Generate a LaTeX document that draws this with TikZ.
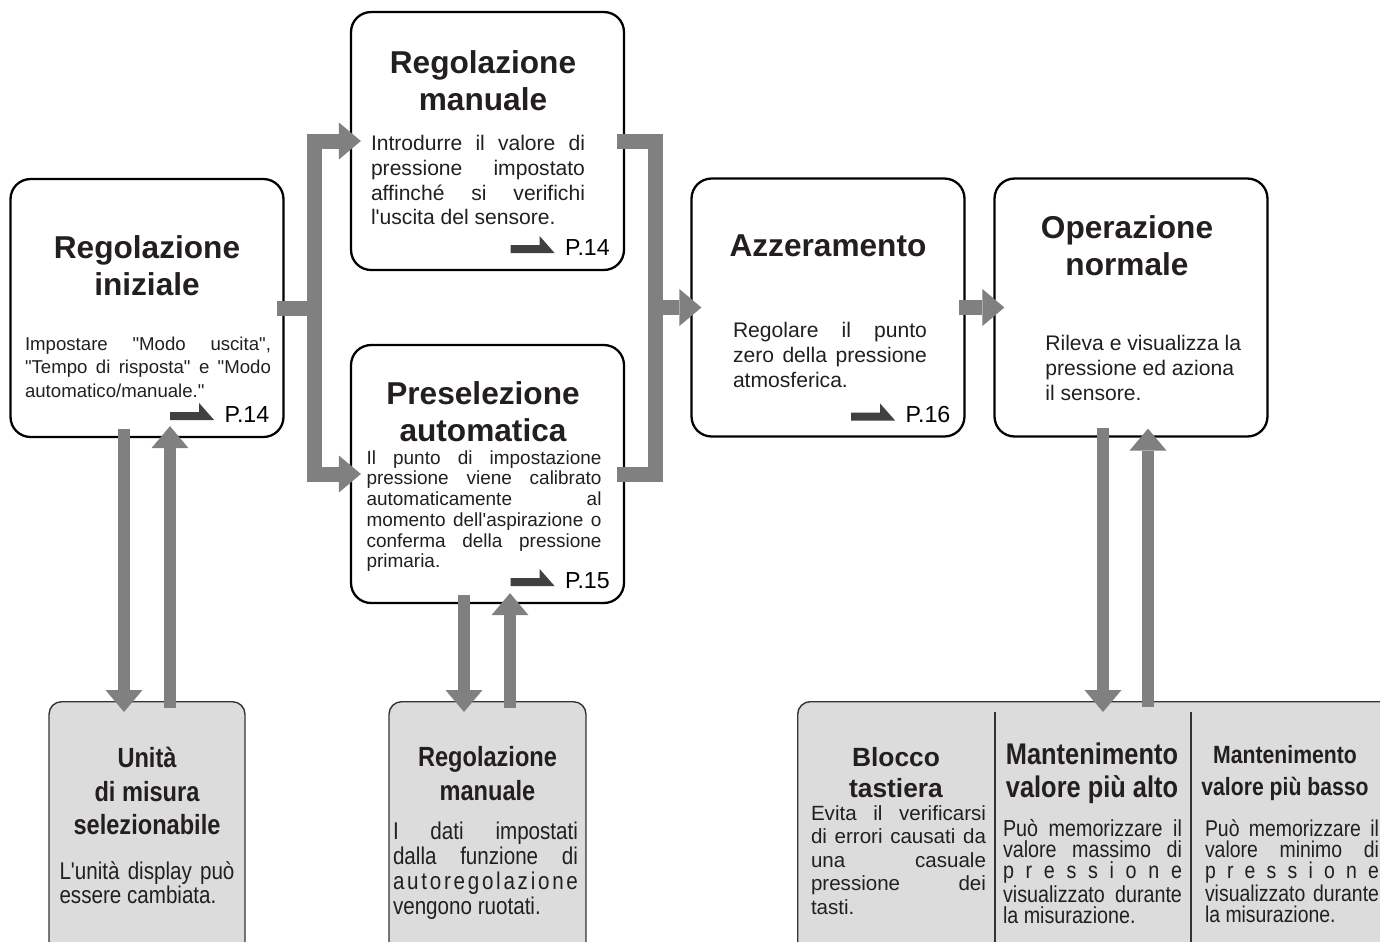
\documentclass[tikz,border=0pt]{standalone}
\usepackage{fontspec}
\setmainfont{Liberation Sans}[Ligatures=TeXOff]
\newfontfamily\narrowfont{Liberation Sans}[FakeStretch=0.85,Ligatures=TeXOff]
\usetikzlibrary{arrows.meta,calc}

\begin{document}
\begin{tikzpicture}[x=0.02cm,y=-0.02cm,
  mainbox/.style={draw=black,line width=1.3pt,rounded corners=0.4cm,fill=white,
    minimum width=5.46cm,minimum height=5.16cm,inner sep=0pt},
  subbox/.style={draw=boxline,line width=0.8pt,rounded corners=0.25cm,fill=boxfill,
    minimum height=6cm,inner sep=0pt},
  ttl/.style={font=\bfseries\fontsize{18}{21}\selectfont,align=center,text=ink,inner sep=0pt},
  subttl/.style={font=\narrowfont\bfseries\fontsize{15.8}{19}\selectfont,align=center,text=ink,inner sep=0pt},
  txt/.style={font=\fontsize{12}{14.2}\selectfont,align=justify,text=ink,inner sep=0pt},
  pg/.style={font=\fontsize{13.2}{15}\selectfont,inner sep=0pt,anchor=base east},
  flow/.style={draw=flowgray,line width=0.3cm,-{Triangle[length=0.44cm,width=0.74cm,line width=0pt]}},
  riser/.style={flow,line width=0.24cm},
  bar/.style={draw=flowgray,line width=0.3cm},
  pgarrow/.pic={\fill[pgdark] (-54,-2) -- (-54,-10) -- (-25,-10) -- (-25,-19) -- (-10,-2) -- cycle;}]
\definecolor{flowgray}{HTML}{808080}\definecolor{pgdark}{HTML}{404040}
\definecolor{boxfill}{HTML}{DCDCDC}\definecolor{boxline}{HTML}{333333}
\definecolor{ink}{HTML}{231F20}
\path[use as bounding box,fill=white] (0,0) rectangle (1380,941);
% ---- main steps ----
\node[mainbox] (ini)  at (147,308)    {};
\node[mainbox] (rm)   at (487.5,141)  {};
\node[mainbox] (pres) at (487.5,474)  {};
\node[mainbox] (az)   at (828,307.5)  {};
\node[mainbox] (op)   at (1131,307.5) {};
% ---- optional functions ----
\node[subbox,anchor=north,minimum width=3.92cm] (um)  at (147,701)   {};
\node[subbox,anchor=north,minimum width=3.94cm] (rmb) at (487.5,701) {};
\node[subbox,anchor=north west,minimum width=13cm] (mt) at (797,701) {};
\draw[boxline,line width=0.6pt] (995,712) -- (995,960) (1191,712) -- (1191,960);

\node[ttl] (iniT) at (147,266) {Regolazione\\iniziale};
\node[txt,font=\fontsize{10.6}{13.3}\selectfont,text width=4.92cm] (iniB) at (148,367)
  {Impostare "Modo uscita",\linebreak "Tempo di risposta" e "Modo\linebreak automatico/manuale."};
\node[pg] (iniP) at ($(ini.south east)+(-15,-16)$) {P.14};
\pic at (iniP.base west) {pgarrow};

\node[ttl] (rmT) at (483,81) {Regolazione\\manuale};
\node[txt,text width=4.28cm] (rmB) at (478,180)
  {Introdurre il valore di\linebreak pressione impostato\linebreak affinché si verifichi\linebreak l'uscita del sensore.};
\node[pg] (rmP) at ($(rm.south east)+(-15,-16)$) {P.14};
\pic at (rmP.base west) {pgarrow};

\node[ttl] (presT) at (483,412) {Preselezione\\automatica};
\node[txt,font=\fontsize{10.8}{11.8}\selectfont,text width=4.7cm] (presB) at (484,511)
  {Il punto di impostazione\linebreak pressione viene calibrato\linebreak automaticamente al\linebreak
   momento dell'aspirazione o\linebreak conferma della pressione\linebreak primaria.};
\node[pg] (presP) at ($(pres.south east)+(-15,-16)$) {P.15};
\pic at (presP.base west) {pgarrow};

\node[ttl] (azT) at (828,246) {Azzeramento};
\node[txt,text width=3.88cm] (azB) at (830,355)
  {Regolare il punto\linebreak zero della pressione\linebreak atmosferica.};
\node[pg] (azP) at ($(az.south east)+(-15,-15)$) {P.16};
\pic at (azP.base west) {pgarrow};

\node[ttl] (opT) at (1127,246) {Operazione\\normale};
\node[txt,align=left,anchor=west] (opB) at (1045,368)
  {Rileva e visualizza la\\pressione ed aziona\\il sensore.};

\node[subttl] (umT) at (147,791) {Unità\\di misura\\selezionabile};
\node[txt,font=\narrowfont\fontsize{13.8}{13.6}\selectfont,text width=3.5cm] (umB) at (147,883)
  {L'unità display può\linebreak essere cambiata.};

\node[subttl] (rmbT) at (487.5,773.5) {Regolazione\\manuale};
\node[txt,font=\narrowfont\fontsize{13.8}{14.2}\selectfont,text width=3.7cm] (rmbB) at (485.5,870.5)
  {I dati impostati\linebreak dalla funzione di\linebreak
   a\hfill u\hfill t\hfill o\hfill r\hfill e\hfill g\hfill o\hfill l\hfill a\hfill z\hfill i\hfill o\hfill n\hfill e\linebreak
   vengono ruotati.};

\node[ttl,font=\bfseries\fontsize{15}{17.6}\selectfont] (blkT) at (896,772.5) {Blocco\\tastiera};
\node[txt,font=\fontsize{11.7}{13.4}\selectfont,text width=3.5cm] (blkB) at (898.5,860)
  {Evita il verificarsi\linebreak di errori causati da\linebreak una casuale\linebreak pressione dei\linebreak tasti.};

\node[subttl,font=\narrowfont\bfseries\fontsize{17}{18.7}\selectfont] (maxT) at (1092,773.5) {Mantenimento\\valore più alto};
\node[txt,font=\narrowfont\fontsize{13.2}{12}\selectfont,text width=3.58cm] (maxB) at (1092.5,871.5)
  {Può memorizzare il\linebreak valore massimo di\linebreak
   p\hfill r\hfill e\hfill s\hfill s\hfill i\hfill o\hfill n\hfill e\linebreak visualizzato durante\linebreak la misurazione.};

\node[subttl,font=\narrowfont\bfseries\fontsize{14.2}{18}\selectfont] (minT) at (1285,773) {Mantenimento\\valore più basso};
\node[txt,font=\narrowfont\fontsize{13}{12}\selectfont,text width=3.48cm] (minB) at (1292,871.5)
  {Può memorizzare il\linebreak valore minimo di\linebreak
   p\hfill r\hfill e\hfill s\hfill s\hfill i\hfill o\hfill n\hfill e\linebreak visualizzato durante\linebreak la misurazione.};
% ---- flow arrows ----
\coordinate (forkL) at (314,308);
\coordinate (forkR) at (655,307.5);
\draw[bar] ($(ini.east)+(-8,0)$) -- (forkL);
\draw[flow] (forkL) |- ($(rm.west)+(11,0)$);
\draw[flow] (forkL) |- ($(pres.west)+(11,0)$);
\draw[bar] ($(rm.east)+(-8,0)$) -| (forkR);
\draw[bar] ($(pres.east)+(-8,0)$) -| (forkR);
\draw[flow] (forkR) -- ($(az.west)+(11,0)$);
\draw[flow] ($(az.east)+(-7,0)$) -- ($(op.west)+(11,0)$);
% down / back up to the optional functions
\draw[riser] ($(ini.south)+(-23,-9)$) -- ($(um.north)+(-23,11)$);
\draw[riser] ($(um.north)+(23,7)$) -- ($(ini.south)+(23,-12)$);
\draw[riser] ($(pres.south)+(-23.5,-9)$) -- ($(rmb.north)+(-23.5,11)$);
\draw[riser] ($(rmb.north)+(22.5,7)$) -- ($(pres.south)+(22.5,-11)$);
\draw[riser] ($(op.south)+(-28,-10)$) -- ($(op.south |- mt.north)+(-28,11)$);
\draw[riser] ($(op.south |- mt.north)+(17,6)$) -- ($(op.south)+(17,-9)$);
\end{tikzpicture}
\end{document}
